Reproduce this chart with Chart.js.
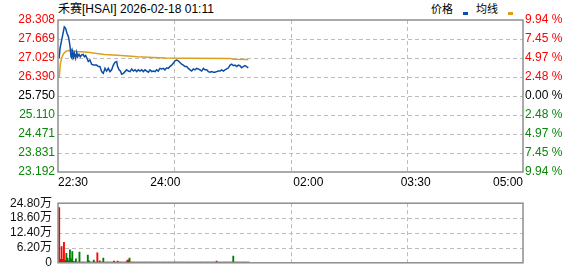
<!DOCTYPE html>
<html><head><meta charset="utf-8">
<script src="https://cdn.jsdelivr.net/npm/chart.js@4"></script>
<style>
html,body{margin:0;padding:0;background:#fff;width:578px;height:276px;overflow:hidden;}
#wrap{position:relative;width:578px;height:276px;font-family:"Liberation Sans","Noto Sans CJK SC",Arial,sans-serif;}
canvas{position:absolute;left:0;}
#c1{top:0;}
#c2{top:190px;}
.txt{position:absolute;font-size:12px;line-height:14px;color:#000;white-space:nowrap;}
.sq{position:absolute;width:5px;height:3px;}
</style></head>
<body><div id="wrap">
<div class="txt" style="left:58px;top:2px;">禾赛[HSAI] 2026-02-18 01:11</div>
<div class="txt" style="left:431px;top:2px;font-size:11px;">价格</div>
<div class="sq" style="left:463px;top:12px;background:#0d4ea6;"></div>
<div class="txt" style="left:476px;top:2px;font-size:11px;">均线</div>
<div class="sq" style="left:508px;top:12px;background:#dca01c;"></div>
<canvas id="c1" width="578" height="192"></canvas>
<canvas id="c2" width="578" height="86"></canvas>
</div>
<script>
// ---- data ----
const timeTickMinutes = [0, 90, 210, 300, 390];
const timeTickLabels = ['22:30', '24:00', '02:00', '03:30', '05:00'];
const gridMinutes = [97.5, 195, 292.5];
const baseClose = 25.750;
const priceTicks = [23.192, 23.831, 24.471, 25.110, 25.750, 26.390, 27.029, 27.669, 28.308];
const priceTickLabels = ['23.192', '23.831', '24.471', '25.110', '25.750', '26.390', '27.029', '27.669', '28.308'];
const pctTickLabels = ['9.94 %', '7.45 %', '4.97 %', '2.48 %', '0.00 %', '2.48 %', '4.97 %', '7.45 %', '9.94 %'];
const volTicks = [0, 6.2, 12.4, 18.6, 24.8];
const volTickLabels = ['0', '6.20万', '12.40万', '18.60万', '24.80万'];

const priceMinutes = [1, 1.7, 3.1, 4.5, 5.3, 6.4, 7.5, 8.7, 9.5, 10.3, 10.9, 11.7, 12.3, 13.1, 13.7, 14.8, 15.7, 16.5, 17.6, 18.7, 19.8, 21.2, 22.1, 23.2, 24.3, 25.4, 26.8, 28.2, 29.6, 31.0, 32.4, 33.8, 35.2, 36.6, 38.0, 39.4, 40.8, 42.2, 43.6, 45.0, 46.4, 47.8, 49.2, 50.0, 51.2, 52.3, 53.4, 54.8, 56.2, 57.6, 59.0, 60.4, 61.8, 63.2, 64.6, 66.0, 67.4, 68.8, 70.2, 71.6, 73.0, 74.4, 75.8, 77.2, 78.6, 80.0, 81.4, 82.8, 84.1, 85.5, 86.9, 88.3, 89.7, 91.1, 92.5, 93.9, 95.3, 96.7, 98.1, 99.5, 100.9, 102.3, 103.7, 105.1, 106.5, 107.9, 109.3, 110.7, 112.1, 113.5, 114.9, 116.3, 117.7, 119.1, 120.5, 121.9, 123.3, 124.7, 126.1, 127.5, 128.9, 130.3, 131.7, 133.1, 134.5, 135.9, 137.3, 138.7, 140.1, 141.5, 142.9, 144.3, 145.7, 147.1, 148.5, 149.9, 151.2, 152.6, 154.0, 155.4, 156.8, 158.2, 159.6];
const prices = [27.03, 27.35, 27.64, 27.92, 28.08, 28.03, 27.86, 27.75, 27.58, 27.35, 27.07, 27.02, 27.24, 27.07, 27.19, 27.02, 27.22, 27.07, 27.15, 27.07, 27.13, 27.15, 27.07, 27.11, 27.02, 26.91, 26.96, 26.82, 26.79, 26.79, 26.79, 26.74, 26.74, 26.57, 26.51, 26.68, 26.59, 26.68, 26.57, 26.63, 26.79, 26.88, 26.91, 26.74, 26.63, 26.59, 26.48, 26.51, 26.57, 26.63, 26.59, 26.57, 26.66, 26.59, 26.63, 26.57, 26.63, 26.59, 26.63, 26.57, 26.63, 26.59, 26.55, 26.63, 26.57, 26.59, 26.57, 26.63, 26.59, 26.68, 26.66, 26.68, 26.63, 26.70, 26.68, 26.74, 26.79, 26.85, 26.93, 26.96, 26.93, 26.88, 26.82, 26.79, 26.74, 26.74, 26.68, 26.63, 26.59, 26.66, 26.63, 26.68, 26.66, 26.63, 26.59, 26.68, 26.63, 26.63, 26.57, 26.55, 26.57, 26.55, 26.55, 26.57, 26.59, 26.59, 26.63, 26.59, 26.63, 26.66, 26.70, 26.79, 26.82, 26.77, 26.79, 26.74, 26.79, 26.77, 26.70, 26.74, 26.77, 26.74, 26.70];

const avgMinutes = [1, 2, 3, 4, 5, 6, 7, 9, 12, 16, 25, 31, 39, 53, 67, 80, 90, 110, 145, 147, 159.6];
const avgPrices = [26.36, 26.85, 27.02, 27.12, 27.19, 27.23, 27.26, 27.28, 27.27, 27.25, 27.22, 27.19, 27.15, 27.11, 27.07, 27.05, 27.03, 27.02, 27.01, 26.99, 26.98];

// volume per minute (万), minutes 1..160; direction 1 = up (red), -1 = down (green)
const volumes = [23.0, 1.4, 6.8, 1.4, 8.5, 1.0, 3.9, 2.0, 0.8, 5.4, 1.7, 4.7, 0.6, 0.4, 1.7, 0.3, 0.3, 4.5, 0.3, 0.3,
  0.3, 0.3, 0.3, 0.3, 3.2, 0.8, 0.3, 0.3, 0.3, 1.1, 0.3, 0.3, 4.2, 0.3, 0.8, 0.3, 0.3, 2.0, 0.3, 0.3,
  0.3, 0.3, 0.3, 0.3, 0.3, 0.3, 0.7, 0.3, 0.3, 0.7, 0.3, 0.3, 0.3, 0.3, 0.3, 0.3, 0.3, 0.9, 1.2, 2.0,
  0.3, 0.3, 0.3, 0.3, 0.3, 0.3, 0.3, 0.3, 0.3, 0.3, 0.3, 0.3, 0.3, 0.3, 0.3, 0.3, 0.3, 0.3, 0.3, 0.3,
  0.3, 0.3, 0.3, 0.3, 0.3, 0.3, 0.3, 0.3, 0.3, 0.3, 0.3, 0.3, 0.3, 0.3, 0.3, 0.3, 0.3, 0.3, 0.3, 0.3,
  0.3, 0.3, 0.3, 0.3, 0.3, 0.3, 0.3, 0.3, 0.3, 0.3, 0.3, 0.3, 0.3, 0.3, 0.3, 0.3, 0.3, 0.3, 0.3, 0.3,
  0.3, 0.3, 0.3, 0.3, 0.3, 0.3, 0.3, 0.3, 0.3, 0.3, 0.3, 0.3, 0.7, 0.3, 0.3, 0.3, 0.3, 0.3, 0.3, 0.3,
  0.3, 0.3, 0.3, 0.3, 0.3, 0.3, 2.8, 0.3, 0.3, 0.3, 0.3, 0.3, 0.3, 0.3, 0.3, 0.3, 0.3, 0.3, 0.3, 0.3];
const volDirs = [1, 1, 1, 1, 1, 1, -1, -1, -1, -1, -1, -1, -1, 1, -1, 1, 1, -1, -1, -1,
  1, -1, 1, -1, -1, -1, -1, 1, -1, -1, 1, -1, 1, -1, 1, 1, -1, -1, -1, -1,
  1, -1, -1, -1, 1, -1, 1, -1, -1, 1, -1, -1, -1, -1, 1, 1, -1, 1, 1, -1,
  1, 1, -1, -1, -1, -1, 1, 1, 1, -1, -1, -1, 1, 1, 1, -1, -1, -1, 1, 1,
  1, -1, -1, -1, 1, 1, 1, 1, -1, 1, 1, 1, 1, 1, 1, -1, -1, -1, -1, -1,
  1, 1, 1, 1, -1, -1, -1, -1, 1, 1, 1, 1, -1, -1, -1, -1, 1, 1, 1, -1,
  -1, -1, -1, 1, 1, 1, -1, -1, -1, 1, 1, 1, 1, -1, -1, -1, 1, 1, 1, 1,
  1, 1, 1, 1, -1, -1, -1, -1, -1, 1, 1, 1, 1, 1, 1, 1, -1, -1, -1, -1];

// ---- styling ----
const RED = '#ff0000', GREEN = '#0a870a', BLACK = '#000000';
const GRID = '#bdbdbd', FRAME = '#8e8e8e';
Chart.defaults.font.family = '"Liberation Sans", "Noto Sans CJK SC", Arial, sans-serif';
Chart.defaults.font.size = 12;
Chart.defaults.color = '#000';

// dashed grid drawn from the library's own scales, plus the plot frame
const framePlugin = {
  id: 'frame',
  beforeDatasetsDraw(chart) {
    const a = chart.chartArea, ctx = chart.ctx, ys = chart.scales.y, xs = chart.scales.x;
    ctx.save();
    ctx.strokeStyle = GRID;
    ctx.lineWidth = 1;
    ctx.setLineDash([4, 3]);
    ctx.beginPath();
    ys.ticks.forEach((t, i, arr) => {
      if (i === 0 || i === arr.length - 1) return;
      const y = Math.round(ys.getPixelForValue(t.value)) + 0.5;
      ctx.moveTo(a.left, y); ctx.lineTo(a.right, y);
    });
    gridMinutes.forEach((m) => {
      const x = Math.round(xs.getPixelForValue(m)) + 0.5;
      ctx.moveTo(x, a.top); ctx.lineTo(x, a.bottom);
    });
    ctx.stroke();
    ctx.restore();
  },
  afterDatasetsDraw(chart) {
    const a = chart.chartArea, ctx = chart.ctx;
    ctx.save();
    ctx.strokeStyle = FRAME;
    ctx.lineWidth = 1.5;
    ctx.strokeRect(a.left, a.top, a.right - a.left, a.bottom - a.top);
    ctx.restore();
  }
};

function tickColor(v) {
  if (Math.abs(v - baseClose) < 1e-6) return BLACK;
  return v > baseClose ? RED : GREEN;
}
const setTicks = (arr) => (axis) => { axis.ticks = arr.map(v => ({ value: v })); };

new Chart(document.getElementById('c1'), {
  type: 'line',
  data: {
    datasets: [
      {
        label: '价格',
        data: priceMinutes.map((m, i) => ({ x: m, y: prices[i] })),
        borderColor: '#0d4ea6', borderWidth: 1.5, pointRadius: 0, tension: 0, order: 1
      },
      {
        label: '均线',
        data: avgMinutes.map((m, i) => ({ x: m, y: avgPrices[i] })),
        borderColor: '#dca01c', borderWidth: 1.5, pointRadius: 0, tension: 0, order: 2
      }
    ]
  },
  options: {
    responsive: false, animation: false, events: [],
    layout: { padding: { top: 20, left: 0, right: 0, bottom: 0 } },
    plugins: { legend: { display: false }, tooltip: { enabled: false } },
    scales: {
      x: {
        type: 'linear', min: 0, max: 390, position: 'bottom', offset: false,
        afterBuildTicks: setTicks(timeTickMinutes),
        ticks: {
          autoSkip: false, maxRotation: 0, align: 'inner', padding: 3, color: BLACK,
          callback: (v, i) => timeTickLabels[i]
        },
        grid: { display: false, drawTicks: false },
        border: { display: false },
        afterFit: (s) => { s.height = 20; }
      },
      y: {
        type: 'linear', position: 'left', min: priceTicks[0], max: priceTicks[priceTicks.length - 1],
        afterBuildTicks: setTicks(priceTicks),
        ticks: {
          autoSkip: false, padding: 3,
          color: (c) => tickColor(c.tick.value),
          callback: (v, i) => priceTickLabels[i]
        },
        grid: { display: false, drawTicks: false },
        border: { display: false },
        afterFit: (s) => { s.width = 58; }
      },
      y2: {
        type: 'linear', position: 'right', min: priceTicks[0], max: priceTicks[priceTicks.length - 1],
        afterBuildTicks: setTicks(priceTicks),
        ticks: {
          autoSkip: false, padding: 2,
          color: (c) => tickColor(c.tick.value),
          callback: (v, i) => pctTickLabels[priceTicks.length - 1 - i]
        },
        grid: { display: false, drawTicks: false },
        border: { display: false },
        afterFit: (s) => { s.width = 55; }
      }
    }
  },
  plugins: [framePlugin]
});

new Chart(document.getElementById('c2'), {
  type: 'bar',
  data: {
    datasets: [{
      label: '成交量',
      data: volumes.map((v, i) => ({ x: i + 1, y: v })),
      backgroundColor: volDirs.map(d => d > 0 ? RED : '#008000'),
      barThickness: 1.2,
      borderWidth: 0
    }]
  },
  options: {
    responsive: false, animation: false, events: [],
    layout: { padding: { top: 7, left: 0, right: 55, bottom: 6 } },
    plugins: { legend: { display: false }, tooltip: { enabled: false } },
    scales: {
      x: {
        type: 'linear', min: 0, max: 390, display: true, offset: false,
        ticks: { display: false },
        grid: { display: false, drawTicks: false, offset: false },
        border: { display: false },
        afterFit: (s) => { s.height = 0; }
      },
      y: {
        type: 'linear', position: 'left', min: 0, max: 24.8,
        afterBuildTicks: setTicks(volTicks),
        ticks: {
          autoSkip: false, padding: 6, color: '#111',
          callback: (v, i) => volTickLabels[i]
        },
        grid: { display: false, drawTicks: false },
        border: { display: false },
        afterFit: (s) => { s.width = 58; }
      }
    }
  },
  plugins: [framePlugin]
});
</script>
</body></html>
